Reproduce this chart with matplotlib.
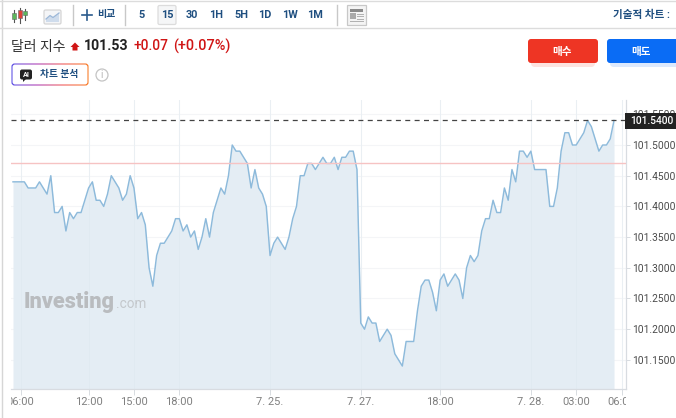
import matplotlib
matplotlib.use("Agg")
import matplotlib.pyplot as plt
import numpy as np
from matplotlib.patches import FancyBboxPatch, Rectangle, Circle, Polygon
from matplotlib.transforms import Bbox

plt.rcParams['font.family'] = ['Roboto', 'Noto Sans CJK KR', 'DejaVu Sans']

# dollar index, one value per bar (offset from 101)
prices = [
    .44, .44, .44, .44, .43, .43, .43, .44, .43, .42, .45, .39, .39, .40, .36, .39, .38, .39, .39, .41,
    .43, .44, .41, .41, .40, .42, .45, .44, .43, .41, .42, .45, .43, .38, .39, .37, .30, .27, .32, .34,
    .34, .35, .36, .38, .38, .36, .37, .35, .36, .33, .35, .38, .35, .39, .41, .43, .42, .45, .50, .49,
    .49, .48, .47, .43, .46, .43, .42, .40, .32, .34, .35, .34, .33, .35, .38, .40, .45, .45, .47, .47,
    .46, .47, .48, .47, .47, .48, .46, .48, .48, .49, .49, .46, .21, .20, .22, .21, .21, .18, .19, .20,
    .19, .16, .15, .14, .18, .18, .18, .23, .27, .28, .28, .26, .23, .28, .29, .27, .28, .29, .28, .25,
    .30, .32, .31, .32, .36, .38, .38, .41, .39, .39, .43, .41, .46, .44, .49, .49, .48, .49, .46, .46,
    .46, .46, .40, .40, .43, .49, .52, .52, .50, .50, .51, .52, .54, .53, .51, .49, .50, .50, .51, .54,
]
prices = [101 + p for p in prices]
last_price = 101.54
prev_close = 101.47

ytick_values = [101.15, 101.20, 101.25, 101.30, 101.35, 101.40, 101.45, 101.50, 101.55]
xtick_pos = [2, 20, 32, 44, 68, 92, 113, 137, 149, 161]
xtick_labels = ['06:00', '12:00', '15:00', '18:00', '7. 25.', '7. 27.', '18:00', '7. 28.', '03:00', '06:00']
intervals = ['5', '15', '30', '1H', '5H', '1D', '1W', '1M']
interval_x = [142, 167, 192, 216, 241, 265, 290, 315]

W, H = 676, 418
fig = plt.figure(figsize=(W / 100, H / 100), dpi=100)
fig.patch.set_facecolor('white')


def px_box(x0, y0, x1, y1):
    return Bbox([[x0, H - y1], [x1, H - y0]])


# chart area in reference pixels: x 11..626, y 100..389
ax = fig.add_axes([11 / W, (H - 389) / H, (626 - 11) / W, 289 / H])
x = np.arange(len(prices))
step = 3.78
x0 = (13 - 11) / step
ax.set_xlim(-x0, (626 - 11) / step - x0)
ax.set_ylim(101.1026, 101.5733)
ax.fill_between(x, prices, ax.get_ylim()[0], color='#e4edf4', lw=0, zorder=1)
ax.plot(x, prices, color='#8dbadb', lw=1.05, zorder=3)
for v in ytick_values:
    ax.axhline(v, color='#f4f5f7', lw=0.8, zorder=0)
for p in xtick_pos:
    ax.axvline(p, color='#f3f5f7', lw=0.8, zorder=0)
    ax.axvline(p, color='#dbe5ee', lw=0.7, zorder=2, alpha=0.35)
ax.axhline(prev_close, color='#f6c3c3', lw=1, zorder=4)
ax.axhline(last_price, color='#444444', lw=0.9, dashes=(4, 3.5), zorder=5)

for s in ['top', 'left']:
    ax.spines[s].set_visible(False)
for s in ['right', 'bottom']:
    ax.spines[s].set_color('#d8dce1')
    ax.spines[s].set_linewidth(0.9)
ax.yaxis.tick_right()
ax.set_yticks(ytick_values)
ax.set_yticklabels([f'{v:.4f}' for v in ytick_values], fontsize=7.4, color='#4a4a4a')
ax.tick_params(axis='y', length=3, width=0.7, color='#d8dce1', pad=1.2)
ax.set_xticks(xtick_pos)
ax.set_xticklabels(xtick_labels, fontsize=8, color='#808080')
ax.tick_params(axis='x', length=4, width=0.7, color='#d8dce1', pad=2)
for t in ax.get_xticklabels():
    t.set_clip_box(px_box(11, 380, 626, 418))
    t.set_clip_on(True)

# page chrome drawn in reference pixel coordinates
ov = fig.add_axes([0, 0, 1, 1], zorder=10)
ov.set_xlim(0, W)
ov.set_ylim(H, 0)
ov.axis('off')
ov.patch.set_alpha(0)

# frame and toolbar rules
ov.plot([1.5, 1.5], [0, H], color='#d6d6d6', lw=1)
ov.plot([0, W], [1, 1], color='#dcdcdc', lw=1)
ov.plot([0, W], [28, 28], color='#dcdcdc', lw=1)
for vx in [73, 125, 337]:
    ov.plot([vx, vx], [5, 25], color='#c8c8c8', lw=1)

# candle icon
for cx, top, bot, y0, y1, col in [(14, 10, 22, 13, 19, '#5cb85c'), (20, 8, 23, 10, 18, '#e0433a'), (25, 9, 20, 11, 15, '#5cb85c')]:
    ov.plot([cx, cx], [top, bot], color='#555555', lw=0.8)
    ov.add_patch(Rectangle((cx - 1.7, y0), 3.4, y1 - y0, fc=col, ec='#666666', lw=0.4, zorder=3))

# area icon
ov.add_patch(FancyBboxPatch((44, 10), 17, 14, boxstyle='round,pad=0,rounding_size=1.5', fc='#f4f5f7', ec='#d5d5d5', lw=0.9))
ov.add_patch(Polygon([(46, 19), (50, 15.5), (53, 17.5), (59, 13), (59, 22), (46, 22)], fc='#cfdcec', ec='none'))
ov.plot([46, 50, 53, 59], [19, 15.5, 17.5, 13], color='#9db8d8', lw=0.9)

# compare
ov.plot([82, 92], [15, 15], color='#2a5a8c', lw=1.2)
ov.plot([87, 87], [10, 20], color='#2a5a8c', lw=1.2)
ov.text(97, 14.5, '비교', fontsize=7.2, color='#1f4f80', ha='left', va='center', fontweight='bold')

# intervals
ov.add_patch(FancyBboxPatch((158, 5.5), 18, 19, boxstyle='round,pad=0,rounding_size=1.5', fc='#f5f6f7', ec='#dcdcdc', lw=0.9))
for lab, ix in zip(intervals, interval_x):
    ov.text(ix, 14.5, lab, fontsize=7.8, color='#1f4f80', ha='center', va='center', fontweight='bold')

# table icon
ov.add_patch(Rectangle((347, 5), 19, 20, fc='#f4f4f4', ec='#c8c8c8', lw=0.9))
ov.add_patch(Rectangle((350, 9), 13, 2.5, fc='#8a8a8a', ec='none'))
ov.add_patch(Rectangle((350, 13), 5.5, 6, fc='#aaaaaa', ec='none'))
for ly in [13.5, 16, 18.5, 21]:
    ov.plot([357, 363], [ly, ly], color='#b0b0b0', lw=0.7)
ov.plot([350, 356], [21, 21], color='#b0b0b0', lw=0.7)

ov.text(670, 14.5, '기술적 차트 :', fontsize=7.6, color='#1f4f80', ha='right', va='center', fontweight='bold')

# title row
ov.text(11, 46.5, '달러 지수', fontsize=10, color='#333333', ha='left', va='center')
ov.add_patch(Polygon([(75, 42.5), (79.5, 47), (77.5, 47), (77.5, 50.5), (72.5, 50.5), (72.5, 47), (70.5, 47)], fc='#d01515', ec='none'))
ov.text(84, 46.5, '101.53', fontsize=10.2, color='#222222', ha='left', va='center', fontweight='bold')
ov.text(133, 46.5, '+0.07', fontsize=9.8, color='#d01515', ha='left', va='center', fontweight='medium')
ov.text(173, 46.5, '(+0.07%)', fontsize=10.4, color='#d01515', ha='left', va='center', fontweight='medium')

# AI button, gradient outline
grad = np.linspace(0, 1, 256).reshape(1, -1)
cmap = matplotlib.colors.LinearSegmentedColormap.from_list('ai', ['#4f46e5', '#a62fb0', '#ef4d4d', '#f97316'])
outline = FancyBboxPatch((11.5, 63.5), 77, 22, boxstyle='round,pad=0,rounding_size=3', fc='none', ec='none')
ov.add_patch(outline)
im = ov.imshow(grad, extent=(11, 89, 86, 63), cmap=cmap, aspect='auto', zorder=2)
im.set_clip_path(outline)
ov.set_xlim(0, W)
ov.set_ylim(H, 0)
ov.add_patch(FancyBboxPatch((12.5, 64.5), 75, 20, boxstyle='round,pad=0,rounding_size=2.5', fc='white', ec='none', zorder=3))
ov.add_patch(FancyBboxPatch((20, 69.5), 12, 10, boxstyle='round,pad=0,rounding_size=2', fc='#222222', ec='none', zorder=4))
ov.add_patch(Polygon([(23, 79), (26, 79), (23, 82)], fc='#222222', ec='none', zorder=4))
ov.text(26, 74.7, 'AI', fontsize=5.2, color='white', ha='center', va='center', fontweight='bold', zorder=5)
ov.text(40, 74.5, '차트 분석', fontsize=7, color='#1f4f80', ha='left', va='center', fontweight='bold', zorder=5)
ov.add_patch(Circle((102, 75), 6, fc='white', ec='#c4c4c4', lw=0.9))
ov.text(102, 75, 'i', fontsize=7, color='#b5b5b5', ha='center', va='center')

# buy / sell
ov.add_patch(FancyBboxPatch((528, 39), 70, 24, boxstyle='round,pad=0,rounding_size=3', fc='#ee3524', ec='none', zorder=3))
ov.add_patch(FancyBboxPatch((607, 39), 75, 24, boxstyle='round,pad=0,rounding_size=3', fc='#0a6cf5', ec='none', zorder=3))
ov.add_patch(FancyBboxPatch((531, 44), 64, 23, boxstyle='round,pad=0,rounding_size=4', fc='#fde3e0', ec='none', zorder=2))
ov.add_patch(FancyBboxPatch((610, 44), 70, 23, boxstyle='round,pad=0,rounding_size=4', fc='#dce9fd', ec='none', zorder=2))
ov.text(562, 51.5, '매수', fontsize=7.6, color='white', ha='center', va='center', fontweight='bold', zorder=4)
ov.text(641, 51.5, '매도', fontsize=7.6, color='white', ha='center', va='center', fontweight='bold', zorder=4)

# last price tag
ov.add_patch(Rectangle((625, 112.5), 51, 16, fc='#222222', ec='none', zorder=3))
ov.text(630.5, 121, f'{last_price:.4f}', fontsize=7.4, color='white', ha='left', va='center', fontweight='medium', zorder=4)

# watermark
ov.text(24, 302, 'Investing', fontsize=15.6, color='#b9bcbf', ha='left', va='center', fontweight='black', zorder=3)
ov.text(116, 304, '.com', fontsize=9.8, color='#c4c8cc', ha='left', va='center', zorder=3)

fig.savefig('out.png', dpi=100)
